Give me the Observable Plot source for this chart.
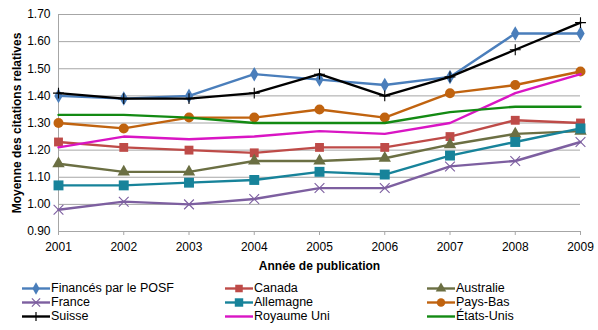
<!DOCTYPE html>
<html>
<head>
<meta charset="utf-8">
<script src="https://cdn.jsdelivr.net/npm/d3@7"></script>
<script src="https://cdn.jsdelivr.net/npm/@observablehq/plot@0.6"></script>
<style>
  html, body { margin: 0; padding: 0; background: #fff; }
  #wrap { position: relative; width: 598px; height: 330px; font-family: "Liberation Sans", Arial, sans-serif; }
  #chart svg { display: block; }
  #chart [aria-label="y-axis label"] text, #chart [aria-label="x-axis label"] text { font-weight: bold; font-size: 12px; }
  .leg { position: absolute; font-size: 12.5px; color: #000; line-height: 13px; white-space: nowrap; display: flex; align-items: center; }
  .leg svg { display: block; margin-right: 1px; }
</style>
</head>
<body>
<div id="wrap">
  <div id="chart"></div>
  <div id="legend"></div>
</div>
<script>
const years = [2001, 2002, 2003, 2004, 2005, 2006, 2007, 2008, 2009];
const seriesNames = ["Financés par le POSF", "Canada", "Australie", "France", "Allemagne", "Pays-Bas", "Suisse", "Royaume Uni", "États-Unis"];
const posf      = [1.40, 1.39, 1.40, 1.48, 1.46, 1.44, 1.47, 1.63, 1.63];
const canada    = [1.23, 1.21, 1.20, 1.19, 1.21, 1.21, 1.25, 1.31, 1.30];
const australie = [1.15, 1.12, 1.12, 1.16, 1.16, 1.17, 1.22, 1.26, 1.27];
const france    = [0.98, 1.01, 1.00, 1.02, 1.06, 1.06, 1.14, 1.16, 1.23];
const allemagne = [1.07, 1.07, 1.08, 1.09, 1.12, 1.11, 1.18, 1.23, 1.28];
const paysBas   = [1.30, 1.28, 1.32, 1.32, 1.35, 1.32, 1.41, 1.44, 1.49];
const suisse    = [1.41, 1.39, 1.39, 1.41, 1.48, 1.40, 1.47, 1.57, 1.67];
const royaumeUni= [1.21, 1.25, 1.24, 1.25, 1.27, 1.26, 1.30, 1.41, 1.48];
const etatsUnis = [1.33, 1.33, 1.32, 1.30, 1.30, 1.30, 1.34, 1.36, 1.36];
const yTicks = [0.9, 1.0, 1.1, 1.2, 1.3, 1.4, 1.5, 1.6, 1.7];

const values = [posf, canada, australie, france, allemagne, paysBas, suisse, royaumeUni, etatsUnis];
const colors = ["#4a7ebb", "#be4b48", "#6b6f43", "#7d5fa0", "#17839a", "#c0630f", "#000000", "#d915c4", "#138a13"];
const symbols = ["diamond", "square", "triangle", "times", "square", "circle", "plus", null, null];
const radii   = [4.4, 5.0, 4.6, 4.5, 5.6, 5.0, 3.6, 0, 0];

const data = [];
seriesNames.forEach((s, i) => years.forEach((y, j) => data.push({series: s, year: y, value: values[i][j], idx: i})));

const marks = [
  Plot.gridY(yTicks, {stroke: "#a6a6a6", strokeOpacity: 1, strokeWidth: 1}),
  Plot.ruleX([2001], {stroke: "#a6a6a6", strokeWidth: 1}),
  Plot.ruleY([0.9], {stroke: "#a6a6a6", strokeWidth: 1}),
  Plot.axisY({ticks: yTicks, tickFormat: d3.format(".2f"), tickSize: 0, tickPadding: 8, fontSize: 12,
    label: "Moyenne des citations relatives", labelAnchor: "center", labelArrow: "none", labelOffset: 46}),
  Plot.axisX({ticks: years, tickFormat: d3.format("d"), tickSize: 4, tickPadding: 7, fontSize: 12, stroke: "#a6a6a6",
    label: "Année de publication", labelAnchor: "center", labelArrow: "none", labelOffset: 38})
];
seriesNames.forEach((s, i) => {
  const sub = data.filter(d => d.idx === i);
  marks.push(Plot.line(sub, {x: "year", y: "value", stroke: colors[i], strokeWidth: 2.4}));
  if (symbols[i]) {
    const stroked = symbols[i] === "times" || symbols[i] === "plus";
    marks.push(Plot.dot(sub, {x: "year", y: "value", symbol: () => symbols[i], r: radii[i],
      fill: stroked ? "none" : colors[i], stroke: stroked ? colors[i] : "none", strokeWidth: stroked ? 1.1 : 0}));
  }
});

const chart = Plot.plot({
  width: 598, height: 275,
  marginLeft: 58, marginRight: 18, marginTop: 14, marginBottom: 44,
  style: {fontFamily: "'Liberation Sans', Arial, sans-serif", color: "#000", background: "#fff"},
  x: {domain: [2001, 2009]},
  y: {domain: [0.9, 1.7]},
  marks
});
document.getElementById("chart").appendChild(chart);

// Legend (HTML, below the SVG)
const legCols = [22, 225, 427];
const legRows = [282, 296, 310];
const leg = document.getElementById("legend");
seriesNames.forEach((s, i) => {
  const col = i % 3, row = Math.floor(i / 3);
  const div = document.createElement("div");
  div.className = "leg";
  div.style.left = legCols[col] + "px";
  div.style.top = legRows[row] + "px";
  const w = 28, h = 13;
  let sym = "";
  if (symbols[i]) {
    const stroked = symbols[i] === "times" || symbols[i] === "plus";
    const typeMap = {diamond: d3.symbolDiamond, square: d3.symbolSquare, triangle: d3.symbolTriangle, times: d3.symbolTimes, circle: d3.symbolCircle, plus: d3.symbolPlus};
    const r = radii[i] * 0.85;
    const p = d3.symbol(typeMap[symbols[i]], r * r * Math.PI)();
    sym = `<path d="${p}" transform="translate(${w/2},${h/2})" fill="${stroked ? "none" : colors[i]}" stroke="${stroked ? colors[i] : "none"}" stroke-width="1.2"/>`;
  }
  div.innerHTML = `<svg width="${w}" height="${h}"><line x1="0" x2="${w}" y1="${h/2}" y2="${h/2}" stroke="${colors[i]}" stroke-width="2.4"/>${sym}</svg><span>${s}</span>`;
  leg.appendChild(div);
});
</script>
</body>
</html>
